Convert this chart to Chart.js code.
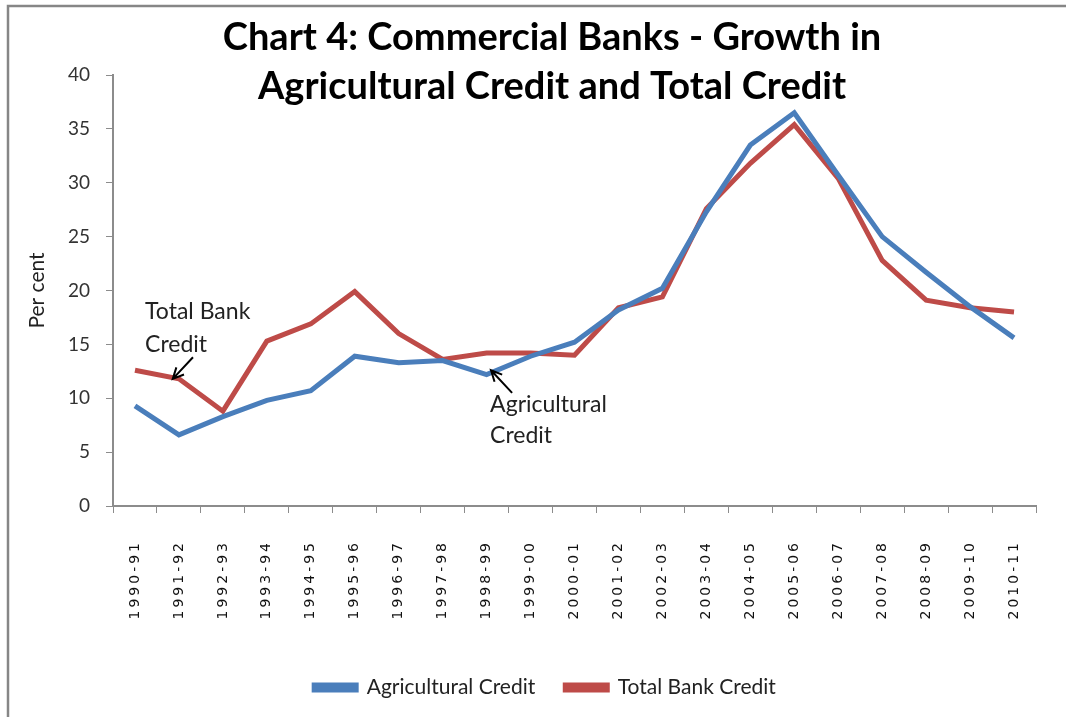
<!DOCTYPE html>
<html lang="en">
<head>
    <meta charset="UTF-8" />
    <title>Chart 4: Commercial Banks</title>
    <script src="https://cdn.jsdelivr.net/npm/chart.js"></script>
    <style>
        body { margin: 0; background: #fff; }
        #wrap { width: 1066px; height: 717px; }
    </style>
</head>
<body>
    <div id="wrap"><canvas id="creditChart" width="1066" height="717"></canvas></div>
    <script>
        // Years on the x axis
        const years = ["1990-91", "1991-92", "1992-93", "1993-94", "1994-95", "1995-96", "1996-97",
            "1997-98", "1998-99", "1999-00", "2000-01", "2001-02", "2002-03", "2003-04",
            "2004-05", "2005-06", "2006-07", "2007-08", "2008-09", "2009-10", "2010-11"];

        // Growth in per cent
        const agriCredit = [9.3, 6.6, 8.3, 9.8, 10.7, 13.9, 13.3, 13.5, 12.2, 13.9, 15.2,
            18.2, 20.2, 27.3, 33.5, 36.5, 30.7, 25.0, 21.7, 18.5, 15.6];
        const totalCredit = [12.6, 11.8, 8.8, 15.3, 16.9, 19.9, 16.0, 13.6, 14.2, 14.2, 14.0,
            18.4, 19.4, 27.6, 31.8, 35.4, 30.4, 22.8, 19.1, 18.4, 18.0];

        const yTicks = [0, 5, 10, 15, 20, 25, 30, 35, 40];
        const titleLines = ["Chart 4: Commercial Banks - Growth in", "Agricultural Credit and Total Credit"];

        const blue = "#4A7EBB";
        const red = "#BE4B48";
        const axisGray = "#8c8c8c";
        const textFont = "Lato, 'Open Sans', sans-serif";

        // frame, title, callout labels with arrows
        const decorations = {
            id: "decorations",
            beforeDraw(chart) {
                const ctx = chart.ctx;
                ctx.save();
                ctx.fillStyle = "#fff";
                ctx.fillRect(0, 0, chart.width, chart.height);
                ctx.strokeStyle = "#868686";
                ctx.lineWidth = 2.5;
                ctx.beginPath();
                ctx.moveTo(8, chart.height);
                ctx.lineTo(8, 6);
                ctx.lineTo(chart.width, 6);
                ctx.stroke();
                ctx.restore();

                // letter-spaced year labels like the original
                const xs = chart.scales.x;
                if (xs && !xs._spaced) {
                    const orig = xs.drawLabels;
                    xs.drawLabels = function (area) {
                        this.ctx.save();
                        this.ctx.letterSpacing = "3px";
                        orig.call(this, area);
                        this.ctx.restore();
                    };
                    xs._spaced = true;
                }
            },
            afterDraw(chart) {
                const ctx = chart.ctx;
                const xs = chart.scales.x;
                const ys = chart.scales.y;
                ctx.save();
                ctx.fillStyle = "#000";
                ctx.textAlign = "center";
                ctx.textBaseline = "middle";
                ctx.font = "bold 38px " + textFont;
                ctx.fillText(titleLines[0], 552, 38);
                ctx.fillText(titleLines[1], 552, 87);

                ctx.fillStyle = "#222";
                ctx.textAlign = "left";
                ctx.font = "23px " + textFont;
                ctx.fillText("Total Bank", xs.getPixelForValue(0.23), ys.getPixelForValue(18.0));
                ctx.fillText("Credit", xs.getPixelForValue(0.23), ys.getPixelForValue(15.0));
                ctx.fillText("Agricultural", xs.getPixelForValue(8.08), ys.getPixelForValue(9.4));
                ctx.fillText("Credit", xs.getPixelForValue(8.08), ys.getPixelForValue(6.5));

                const arrow = (x0, y0, x1, y1) => {
                    const ax = xs.getPixelForValue(x0), ay = ys.getPixelForValue(y0);
                    const bx = xs.getPixelForValue(x1), by = ys.getPixelForValue(y1);
                    const ang = Math.atan2(by - ay, bx - ax);
                    ctx.beginPath();
                    ctx.moveTo(ax, ay);
                    ctx.lineTo(bx, by);
                    ctx.moveTo(bx - 12 * Math.cos(ang - 0.45), by - 12 * Math.sin(ang - 0.45));
                    ctx.lineTo(bx, by);
                    ctx.lineTo(bx - 12 * Math.cos(ang + 0.45), by - 12 * Math.sin(ang + 0.45));
                    ctx.stroke();
                };
                ctx.strokeStyle = "#000";
                ctx.lineWidth = 2;
                arrow(1.32, 13.8, 0.86, 11.8);
                arrow(8.58, 10.5, 8.1, 12.6);
                ctx.restore();
            }
        };

        const creditConfig = {
            type: "line",
            data: {
                labels: years,
                datasets: [
                    {
                        label: "Agricultural Credit",
                        data: agriCredit,
                        borderColor: blue,
                        backgroundColor: blue,
                        borderWidth: 5,
                        pointRadius: 0,
                        tension: 0,
                    },
                    {
                        label: "Total Bank Credit",
                        data: totalCredit,
                        borderColor: red,
                        backgroundColor: red,
                        borderWidth: 5,
                        pointRadius: 0,
                        tension: 0,
                    },
                ],
            },
            options: {
                responsive: false,
                animation: false,
                devicePixelRatio: 1,
                // left padding is wide so the legend sits right of centre like the original
                layout: { padding: { left: 54, right: 30, top: 75, bottom: 9 } },
                plugins: {
                    tooltip: { enabled: false },
                    legend: {
                        display: true,
                        position: "bottom",
                        labels: {
                            boxWidth: 42,
                            boxHeight: 5,
                            padding: 30,
                            color: "#222",
                            font: { family: textFont, size: 21 },
                        },
                    },
                },
                scales: {
                    x: {
                        offset: true,
                        grid: { drawOnChartArea: false, tickLength: 7, color: axisGray, offset: true },
                        border: { color: axisGray, width: 2 },
                        ticks: {
                            minRotation: 90,
                            maxRotation: 90,
                            padding: 27,
                            color: "#111",
                            font: { family: "'DejaVu Sans', sans-serif", size: 14 },
                        },
                        afterFit(scale) { scale.height = 141; },
                    },
                    y: {
                        min: 0,
                        max: 40,
                        afterBuildTicks(scale) { scale.ticks = yTicks.map(v => ({ value: v })); },
                        grid: { drawOnChartArea: false, tickLength: 7, color: axisGray },
                        border: { color: axisGray, width: 2 },
                        ticks: {
                            padding: 16,
                            color: "#333",
                            font: { family: textFont, size: 19 },
                        },
                        title: {
                            display: true,
                            text: "Per cent",
                            color: "#222",
                            padding: { top: -29, bottom: 0 },
                            font: { family: textFont, size: 21 },
                        },
                        afterFit(scale) { scale.width = 59; },
                    },
                },
            },
            plugins: [decorations],
        };

        window.onload = function () {
            const ctx = document.getElementById("creditChart").getContext("2d");
            new Chart(ctx, creditConfig);
        };
    </script>
</body>
</html>
